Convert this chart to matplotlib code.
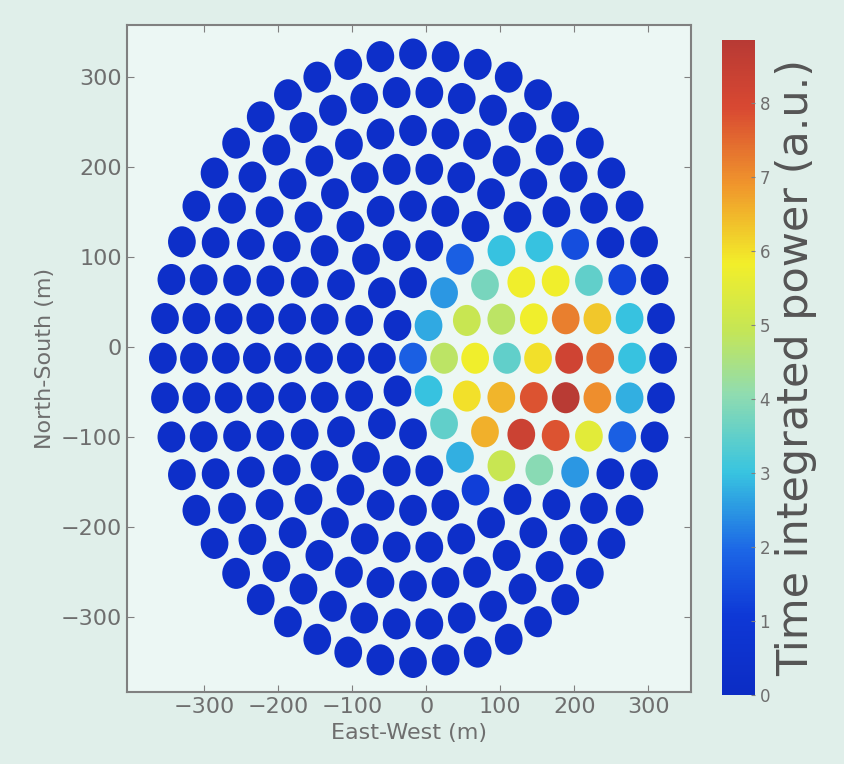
import numpy as np
import matplotlib.pyplot as plt
from matplotlib.colors import LinearSegmentedColormap
from matplotlib.path import Path

# station layout: concentric rings of stations (metres)
ring_radius = [0, 42, 84, 127, 169, 211, 253, 296, 338]
ring_count = [1, 6, 12, 18, 24, 30, 36, 42, 48]
ring_phase = [0, 0, 0, 0, 0, 0, 0, 0, 0]  # degrees
array_centre = (-18, -12)

# stations lit up by the air shower: position (m) and power (a.u.)
hot_x = [51, 108, 157, 204,
         31, 83, 132, 177, 225, 270,
         4, 58, 103, 148, 191, 234, 277,
         -18, 31, 72, 114, 153, 198, 238, 279,
         9, 60, 105, 153, 196, 236, 281,
         36, 87, 139, 184, 227, 272,
         58, 114, 166, 216, 87]
hot_y = [97, 97, 97, 97,
         60, 60, 60, 60, 60, 60,
         23, 23, 23, 23, 23, 23, 23,
         -14, -14, -14, -14, -14, -14, -14, -14,
         -52, -52, -52, -52, -52, -52, -52,
         -88, -88, -88, -88, -88, -88,
         -122, -122, -122, -122, -150]
hot_power = [1.8, 3.0, 3.0, 1.5,
             2.5, 3.8, 5.8, 5.8, 3.5, 1.3,
             2.7, 5.0, 4.8, 5.8, 7.2, 6.3, 3.0,
             1.8, 4.8, 5.8, 3.5, 6.0, 8.2, 7.5, 3.0,
             3.0, 6.0, 6.5, 7.8, 8.8, 7.0, 2.8,
             3.5, 6.6, 8.3, 7.8, 5.5, 1.8,
             2.8, 5.0, 4.0, 2.5, 1.2]
background_power = 0.3

colorbar_ticks = [0, 1, 2, 3, 4, 5, 6, 7, 8]

# build station positions from the rings
sx, sy = [], []
for r, n, ph in zip(ring_radius, ring_count, ring_phase):
    ang = np.deg2rad(ph + 360.0 * np.arange(n) / n)
    sx.extend(array_centre[0] + r * np.cos(ang))
    sy.extend(array_centre[1] + r * np.sin(ang))
sx = np.array(sx)
sy = np.array(sy)

# each station takes the power of the nearest reading, if there is one close by
hx, hy, hp = np.array(hot_x), np.array(hot_y), np.array(hot_power)
power = np.full(len(sx), background_power)
for i in range(len(sx)):
    d = np.hypot(hx - sx[i], hy - sy[i])
    j = np.argmin(d)
    if d[j] < 26:
        power[i] = hp[j]

# jet-like map as it looks on the projected slide
cmap = LinearSegmentedColormap.from_list('slide_jet', [
    (0.00, '#0c2cc4'), (0.12, '#0e38d6'), (0.22, '#1c66e6'),
    (0.34, '#38c4e0'), (0.46, '#90dcb0'), (0.56, '#c6e654'),
    (0.66, '#f2ee2a'), (0.78, '#f0962c'), (0.90, '#d84832'),
    (1.00, '#b83a34')])

grey = '#808080'
fig = plt.figure(figsize=(8.44, 7.64), dpi=100, facecolor='#e0efea')
ax = fig.add_axes([0.150, 0.094, 0.669, 0.873], facecolor='#ecf7f4')

circ = Path.unit_circle()
oval = Path(circ.vertices * [1.0, 1.12], circ.codes)

sc = ax.scatter(sx, sy, c=power, cmap=cmap, vmin=0, vmax=8.85,
                s=500, marker=oval, edgecolors='none')

ax.set_xlim(-405, 358)
ax.set_ylim(-383, 358)
ax.set_xticks([-300, -200, -100, 0, 100, 200, 300])
ax.set_yticks([-300, -200, -100, 0, 100, 200, 300])
ax.tick_params(direction='in', top=True, right=True, length=5,
               color=grey, labelcolor='#6e6e6e', labelsize=16)
for sp in ax.spines.values():
    sp.set_color(grey)
    sp.set_linewidth(1.5)
ax.set_xlabel('East-West (m)', fontsize=16, color='#6e6e6e')
ax.set_ylabel('North-South (m)', fontsize=16, color='#6e6e6e')

cax = fig.add_axes([0.855, 0.090, 0.039, 0.857])
cb = fig.colorbar(sc, cax=cax, ticks=colorbar_ticks)
cb.outline.set_visible(False)
cb.ax.tick_params(direction='in', length=3, color=grey,
                  labelcolor='#6e6e6e', labelsize=12)
cb.set_label('Time integrated power (a.u.)', fontsize=31, color='#555555',
             labelpad=4)

fig.savefig('out.png', dpi=100, facecolor=fig.get_facecolor())
